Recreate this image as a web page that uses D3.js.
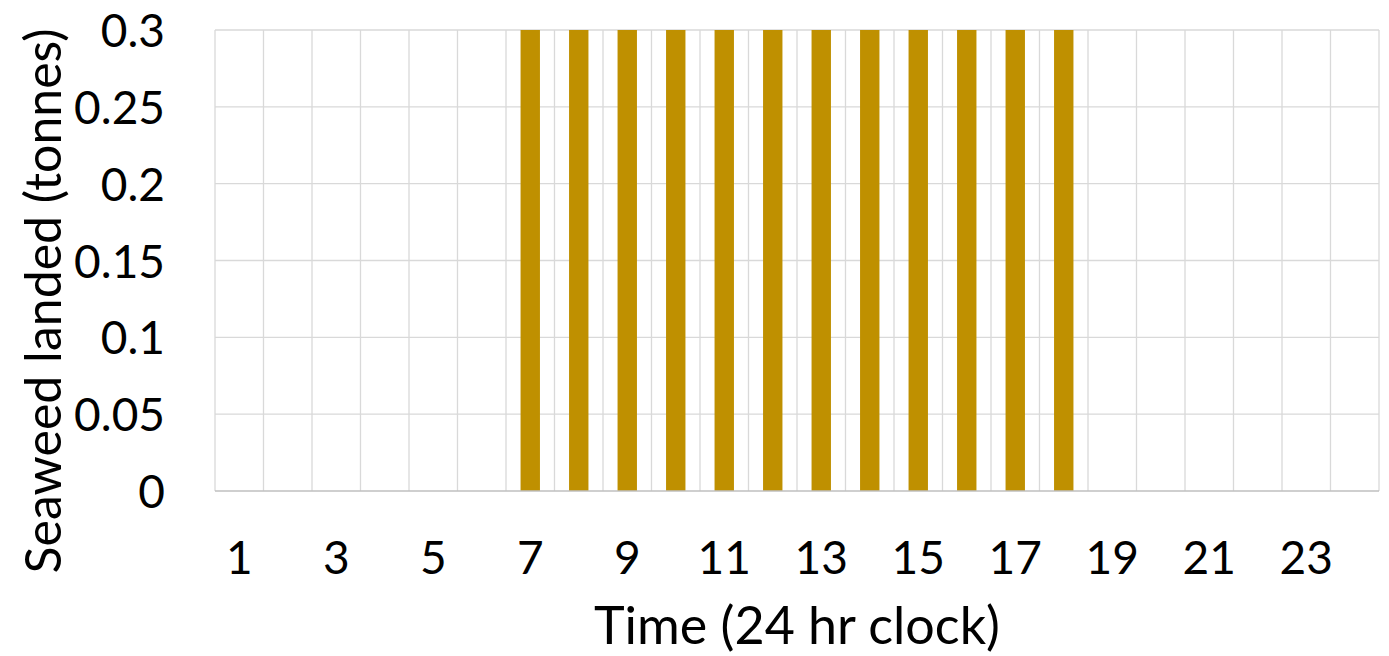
<!DOCTYPE html>
<html>
<head>
<meta charset="utf-8">
<script src="https://cdn.jsdelivr.net/npm/d3@7"></script>
<style>
  html, body { margin: 0; padding: 0; background: #fff; }
  svg { display: block; }
  text { font-family: Lato, "Noto Sans", sans-serif; fill: #000; }
</style>
</head>
<body>
<svg id="chart" width="1389" height="656"></svg>
<script>
const hours = d3.range(1, 25);
const landed = [0, 0, 0, 0, 0, 0, 0.3, 0.3, 0.3, 0.3, 0.3, 0.3, 0.3, 0.3, 0.3, 0.3, 0.3, 0.3, 0, 0, 0, 0, 0, 0];
const yTicks = [0, 0.05, 0.1, 0.15, 0.2, 0.25, 0.3];
const xTickLabels = [1, 3, 5, 7, 9, 11, 13, 15, 17, 19, 21, 23];
const xTitle = "Time (24 hr clock)";
const yTitle = "Seaweed landed (tonnes)";

const svg = d3.select("#chart");
const m = { left: 215, right: 10, top: 30, bottom: 165 };
const W = 1389, H = 656;

const x = d3.scaleBand().domain(hours).range([m.left, W - m.right]).padding(0);
const y = d3.scaleLinear().domain([0, 0.3]).range([H - m.bottom, m.top]);

const g = svg.append("g");

// horizontal gridlines
g.selectAll("line.hg").data(yTicks.filter(d => d > 0)).join("line")
  .attr("x1", m.left).attr("x2", W - m.right)
  .attr("y1", d => y(d)).attr("y2", d => y(d))
  .attr("stroke", "#d9d9d9").attr("stroke-width", 1.3);

// vertical gridlines at category boundaries
const bounds = hours.map(h => x(h)).concat([x(hours[hours.length - 1]) + x.bandwidth()]);
g.selectAll("line.vg").data(bounds).join("line")
  .attr("x1", d => d).attr("x2", d => d)
  .attr("y1", y(0.3)).attr("y2", y(0))
  .attr("stroke", "#d9d9d9").attr("stroke-width", 1.3);

// bars
const bw = x.bandwidth() * 0.4;
g.selectAll("rect.bar").data(hours.map((h, i) => ({ h, v: landed[i] })).filter(d => d.v > 0)).join("rect")
  .attr("x", d => x(d.h) + x.bandwidth() / 2 - bw / 2)
  .attr("width", bw)
  .attr("y", d => y(d.v))
  .attr("height", d => y(0) - y(d.v))
  .attr("fill", "#bf9000");

// x axis baseline
g.append("line")
  .attr("x1", m.left).attr("x2", W - m.right)
  .attr("y1", y(0)).attr("y2", y(0))
  .attr("stroke", "#bfbfbf").attr("stroke-width", 1.5);

// y tick labels
const yAxis = d3.axisLeft(y).tickValues(yTicks).tickSize(0).tickPadding(0)
  .tickFormat(d => d3.format("~g")(d));
const ya = svg.append("g").attr("transform", `translate(165,0)`).call(yAxis);
ya.select(".domain").remove();
ya.selectAll("text").style("font-size", "46px").attr("font-family", null).attr("dy", "0.36em");

// x tick labels
const xAxis = d3.axisBottom(x).tickValues(xTickLabels).tickSize(0).tickPadding(0);
const xa = svg.append("g").attr("transform", `translate(0,${y(0) + 66})`).call(xAxis);
xa.select(".domain").remove();
xa.selectAll("text").style("font-size", "46px").attr("font-family", null).attr("dy", "0.36em");

// titles
svg.append("text").attr("x", (m.left + W - m.right) / 2).attr("y", 644)
  .attr("text-anchor", "middle").style("font-size", "52px").text(xTitle);
svg.append("text").attr("transform", `translate(61,301) rotate(-90)`)
  .attr("text-anchor", "middle").style("font-size", "50px").text(yTitle);
</script>
</body>
</html>
